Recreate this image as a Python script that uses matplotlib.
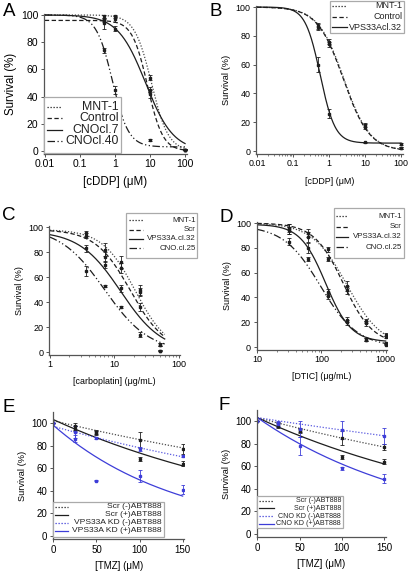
import numpy as np
import matplotlib
matplotlib.use('Agg')
import matplotlib.pyplot as plt
from matplotlib.lines import Line2D
from matplotlib.patches import Rectangle
from matplotlib.ticker import LogLocator, NullFormatter

plt.rcParams['font.family'] = ['Liberation Sans', 'DejaVu Sans']

# ---------------- DATA ----------------
# Panel A : cDDP (uM)
A_labels = ['MNT-1', 'Control', 'CNOcl.7', 'CNOcl.40']
A_x = [0.5, 1, 10, 100]
A_mnt = [99, 99, 54, 1]
A_ctrl = [96, 97, 45, 1]
A_cno7 = [94, 90, 42, 1]
A_cno40 = [74, 45, 8, 1]
A_err_mnt = [1, 1, 2, 0.5]
A_err_ctrl = [1, 2, 2, 0.5]
A_err_cno7 = [4, 2, 3, 0.5]
A_err_cno40 = [2, 3, 1, 0.5]
# fitted logistic parameters: top, bottom, IC50, hill
A_top = [100, 96, 100, 100]
A_bottom = [0, 0, 0, 3]
A_ic50 = [11, 8.5, 7.5, 0.85]
A_hill = [1.8, 2.0, 1.1, 1.9]

# Panel B : cDDP (uM)
B_labels = ['MNT-1', 'Control', 'VPS33Acl.32']
B_x = [0.5, 1, 10, 100]
B_mnt = [87, 76, 18, 2]
B_ctrl = [86, 74, 17, 2]
B_vps = [60, 26, 6, 5]
B_err_mnt = [2, 2, 1.5, 0.5]
B_err_ctrl = [2, 2, 1.5, 0.5]
B_err_vps = [5, 3, 0.5, 0.5]
B_top = [100, 100, 100]
B_bottom = [0, 0, 5.5]
B_ic50 = [2.6, 2.5, 0.57]
B_hill = [1.2, 1.2, 2.1]

# Panel C : carboplatin (ug/mL)
C_labels = ['MNT-1', 'Scr', 'VPS33A.cl.32', 'CNO.cl.25']
C_x = [3.6, 7.2, 12.5, 25, 50]
C_mnt = [95, 82, 72, 50, 6]
C_scr = [93, 76, 67, 48, 6]
C_vps = [83, 70, 51, 36, 1]
C_cno = [65, 53, 36, 14, 1]
C_err_mnt = [2, 5, 5, 4, 1]
C_err_scr = [2, 4, 4, 3, 1]
C_err_vps = [3, 3, 3, 3, 0.5]
C_err_cno = [4, 1, 1, 2, 0.5]
C_top = [98, 98, 97, 100]
C_bottom = [0, 0, 0, 0]
C_ic50 = [21, 17.7, 12.5, 7]
C_hill = [1.7, 1.6, 1.35, 1.25]

# Panel D : DTIC (ug/mL)
D_labels = ['MNT-1', 'Scr', 'VPS33A.cl.32', 'CNO.cl.25']
D_x = [31.25, 62.5, 125, 250, 500, 1000]
D_mnt = [96, 92, 79, 49, 21, 10]
D_scr = [94, 89, 71, 46, 19, 8]
D_vps = [95, 80, 44, 22, 6, 3]
D_cno = [85, 71, 41, 20, 6, 2]
D_err_mnt = [3, 3, 2, 4, 2, 1]
D_err_scr = [3, 4, 2, 3, 2, 1]
D_err_vps = [4, 4, 3, 2, 1, 0.5]
D_err_cno = [3, 2, 2, 2, 1, 0.5]
D_top = [100, 100, 99, 98]
D_bottom = [0, 2, 4, 0]
D_ic50 = [250, 220, 116, 97]
D_hill = [1.6, 1.9, 2.2, 1.5]

# Panel E : TMZ (uM)
E_labels = ['Scr (-)ABT888', 'Scr (+)ABT888', 'VPS33A KD (-)ABT888', 'VPS33A KD (+)ABT888']
E_x = [0, 25, 50, 100, 150]
E_scr_m = [100, 97, 92, 85, 77]
E_scr_p = [100, 95, 91, 68, 64]
E_kd_m = [100, 92, 87, 77, 71]
E_kd_p = [100, 86, 49, 53, 41]
E_err_scr_m = [0, 3, 2, 7, 4]
E_err_scr_p = [0, 2, 2, 2, 2]
E_err_kd_m = [0, 5, 1, 2, 1]
E_err_kd_p = [0, 3, 0.5, 5, 4]
# exponential fit: y0, decay rate
E_y0 = [102, 103, 97, 98]
E_rate = [0.00179, 0.00338, 0.00217, 0.0068]

# Panel F : TMZ (uM)
F_labels = ['Scr (-)ABT888', 'Scr (+)ABT888', 'CNO KD (-)ABT888', 'CNO KD (+)ABT888']
F_x = [0, 25, 50, 100, 150]
F_scr_m = [100, 97, 92, 85, 77]
F_scr_p = [100, 96, 91, 68, 64]
F_kd_m = [100, 98, 93, 92, 87]
F_kd_p = [100, 97, 78, 58, 49]
F_err_scr_m = [0, 2, 2, 6, 3]
F_err_scr_p = [0, 2, 2, 2, 2]
F_err_kd_m = [0, 2, 7, 8, 7]
F_err_kd_p = [0, 2, 8, 1, 4]
F_y0 = [103, 103, 103, 103]
F_rate = [0.00194, 0.00338, 0.00113, 0.00509]

# ---------------- STYLE ----------------
W, H = 408, 572
fig = plt.figure(figsize=(W / 100, H / 100), dpi=100)

BLK = '#1e1e1e'
GRY = '#4a4a4a'
BLUE = '#3d3dd8'
BLUE_L = '#5a5ae0'
SPINE = '#555555'
DOT = (0, (1, 1.4))
DASH = (0, (3.5, 2))
SOLID = '-'
DDOT = (0, (6, 2, 1, 2, 1, 2))


def add_ax(l, r, t, b):
    return fig.add_axes([l / W, 1 - b / H, (r - l) / W, (b - t) / H])


def style_ax(ax, fs, yfs):
    for s in ['top', 'right']:
        ax.spines[s].set_visible(False)
    for s in ['left', 'bottom']:
        ax.spines[s].set_color(SPINE)
        ax.spines[s].set_linewidth(0.9)
    ax.tick_params(which='major', length=2.5, width=0.7, color=SPINE,
                   labelsize=fs, pad=1.5)
    ax.tick_params(which='minor', length=1.5, width=0.5, color=SPINE)
    ax.set_ylabel('Survival (%)', fontsize=yfs, labelpad=3)


def logistic(x, top, bottom, ic50, hill):
    return bottom + (top - bottom) / (1 + (x / ic50) ** hill)


def fig_legend(box, rows, hx, tx, entries, fs):
    x0, y0, x1, y1 = box
    fig.add_artist(Rectangle((x0 / W, 1 - y1 / H), (x1 - x0) / W, (y1 - y0) / H,
                             transform=fig.transFigure, facecolor='white',
                             edgecolor='#aaaaaa', linewidth=0.9, zorder=5))
    for yy, (lab, ls, col) in zip(rows, entries):
        fig.add_artist(Line2D([hx[0] / W, hx[1] / W], [1 - yy / H, 1 - yy / H],
                              transform=fig.transFigure, color=col,
                              linestyle=ls, linewidth=0.9, zorder=6))
        fig.text(tx / W, 1 - yy / H, lab, ha='right', va='center',
                 fontsize=fs, color='#222222', zorder=7)


def line_color(ls, base):
    if ls == DOT:
        return GRY if base == BLK else BLUE_L
    return base


def plot_log_panel(ax, x, ys, errs, tops, bots, ic50s, hills, styles, xlim, crange):
    xx = np.logspace(np.log10(crange[0]), np.log10(crange[1]), 400)
    for y, e, t, b, c, h, ls in zip(ys, errs, tops, bots, ic50s, hills, styles):
        ax.plot(xx, logistic(xx, t, b, c, h), color=line_color(ls, BLK),
                linestyle=ls, lw=0.9)
        ax.errorbar(x, y, yerr=e, fmt='s', ms=1.8, color=BLK, ecolor=BLK,
                    elinewidth=0.6, capsize=1.3, capthick=0.6)
    ax.set_xscale('log')
    ax.set_xlim(*xlim)
    ax.set_ylim(-2, 101)
    ax.set_yticks([0, 20, 40, 60, 80, 100])
    ax.xaxis.set_minor_locator(LogLocator(base=10, subs=np.arange(2, 10)))
    ax.xaxis.set_minor_formatter(NullFormatter())


def plot_lin_panel(ax, x, ys, errs, y0s, rates, styles, colors):
    xx = np.linspace(0, 150, 200)
    for y, e, a, k, ls, col in zip(ys, errs, y0s, rates, styles, colors):
        ax.plot(xx, a * np.exp(-k * xx), color=line_color(ls, col),
                linestyle=ls, lw=0.9)
        ax.errorbar(x, y, yerr=e, fmt='s', ms=1.8, color=col, ecolor=col,
                    elinewidth=0.6, capsize=1.3, capthick=0.6)
    ax.set_xlim(-0.5, 152)
    ax.set_ylim(-3, 110)
    ax.set_yticks([0, 20, 40, 60, 80, 100])
    ax.set_xticks([0, 50, 100, 150])


# ---------------- PANEL A ----------------
axA = add_ax(44, 186.5, 13.6, 153.7)
plot_log_panel(axA, A_x, [A_mnt, A_ctrl, A_cno7, A_cno40],
               [A_err_mnt, A_err_ctrl, A_err_cno7, A_err_cno40],
               A_top, A_bottom, A_ic50, A_hill, [DOT, DASH, SOLID, DDOT],
               (0.0095, 110), (0.01, 100))
axA.set_xticks([0.01, 0.1, 1, 10, 100])
axA.set_xticklabels(['0.01', '0.1', '1', '10', '100'])
style_ax(axA, 7.5, 8.3)
axA.set_xlabel('[cDDP] (μM)', fontsize=8.3, labelpad=5)
fig_legend((44, 97, 121, 153), [107, 118, 129.5, 141], (47, 62), 119,
           list(zip(A_labels, [DOT, DASH, SOLID, DDOT], [BLK] * 4)), 8.8)

# ---------------- PANEL B ----------------
axB = add_ax(256.2, 402.5, 5.6, 153.9)
plot_log_panel(axB, B_x, [B_mnt, B_ctrl, B_vps],
               [B_err_mnt, B_err_ctrl, B_err_vps],
               B_top, B_bottom, B_ic50, B_hill, [DOT, DASH, SOLID],
               (0.0095, 110), (0.01, 100))
axB.set_xticks([0.01, 0.1, 1, 10, 100])
axB.set_xticklabels(['0.01', '0.1', '1', '10', '100'])
style_ax(axB, 6.4, 6.7)
axB.set_xlabel('[cDDP] (μM)', fontsize=6.4, labelpad=6)
fig_legend((330, 0.5, 404, 33), [6, 16.5, 27], (332, 347), 402,
           list(zip(B_labels, [DOT, DASH, SOLID], [BLK] * 3)), 6.5)

# ---------------- PANEL C ----------------
axC = add_ax(49.1, 180.4, 225.8, 354.5)
plot_log_panel(axC, C_x, [C_mnt, C_scr, C_vps, C_cno],
               [C_err_mnt, C_err_scr, C_err_vps, C_err_cno],
               C_top, C_bottom, C_ic50, C_hill, [DOT, DASH, SOLID, DDOT],
               (0.97, 105), (1, 60))
axC.set_xticks([1, 10, 100])
axC.set_xticklabels(['1', '10', '100'])
style_ax(axC, 6.5, 6.5)
axC.set_xlabel('[carboplatin] (μg/mL)', fontsize=6.4, labelpad=6)
fig_legend((126, 213, 197, 258), [220, 229.5, 239, 248.5], (128.5, 143), 196,
           list(zip(C_labels, [DOT, DASH, SOLID, DDOT], [BLK] * 4)), 5.7)

# ---------------- PANEL D ----------------
axD = add_ax(256.5, 387, 221.8, 349.5)
plot_log_panel(axD, D_x, [D_mnt, D_scr, D_vps, D_cno],
               [D_err_mnt, D_err_scr, D_err_vps, D_err_cno],
               D_top, D_bottom, D_ic50, D_hill, [DOT, DASH, SOLID, DDOT],
               (9.7, 1050), (10, 1000))
axD.set_xticks([10, 100, 1000])
axD.set_xticklabels(['10', '100', '1000'])
style_ax(axD, 6.5, 6.5)
axD.set_xlabel('[DTIC] (μg/mL)', fontsize=6.4, labelpad=6)
fig_legend((334, 208, 404, 258), [216, 226.5, 237, 247], (336, 348), 402,
           list(zip(D_labels, [DOT, DASH, SOLID, DDOT], [BLK] * 4)), 5.7)

# ---------------- PANEL E ----------------
axE = add_ax(52.9, 184.4, 411.7, 539.4)
plot_lin_panel(axE, E_x, [E_scr_m, E_scr_p, E_kd_m, E_kd_p],
               [E_err_scr_m, E_err_scr_p, E_err_kd_m, E_err_kd_p],
               E_y0, E_rate, [DOT, SOLID, DOT, SOLID], [BLK, BLK, BLUE, BLUE])
style_ax(axE, 7, 6.7)
axE.set_xlabel('[TMZ] (μM)', fontsize=7, labelpad=4)
fig_legend((53, 502, 164, 537), [506.5, 514.5, 522.5, 530.5], (55, 68), 162,
           list(zip(E_labels, [DOT, SOLID, DOT, SOLID], [BLK, BLK, BLUE, BLUE])), 6.1)

# ---------------- PANEL F ----------------
axF = add_ax(256.9, 385.7, 409.7, 537.4)
plot_lin_panel(axF, F_x, [F_scr_m, F_scr_p, F_kd_m, F_kd_p],
               [F_err_scr_m, F_err_scr_p, F_err_kd_m, F_err_kd_p],
               F_y0, F_rate, [DOT, SOLID, DOT, SOLID], [BLK, BLK, BLUE, BLUE])
style_ax(axF, 7, 6.7)
axF.set_xlabel('[TMZ] (μM)', fontsize=7, labelpad=4)
fig_legend((257, 496, 343, 528), [500.5, 508, 516, 523.5], (259, 274), 341,
           list(zip(F_labels, [DOT, SOLID, DOT, SOLID], [BLK, BLK, BLUE, BLUE])), 5.1)

# ---------------- PANEL LETTERS ----------------
for lab, px, py in [('A', 9, 12), ('B', 216, 12), ('C', 9, 216), ('D', 226, 217),
                    ('E', 9, 407), ('F', 224, 406)]:
    fig.text(px / W, 1 - py / H, lab, ha='center', va='center', fontsize=13.5,
             color='black')

fig.savefig('out.png', dpi=100)
